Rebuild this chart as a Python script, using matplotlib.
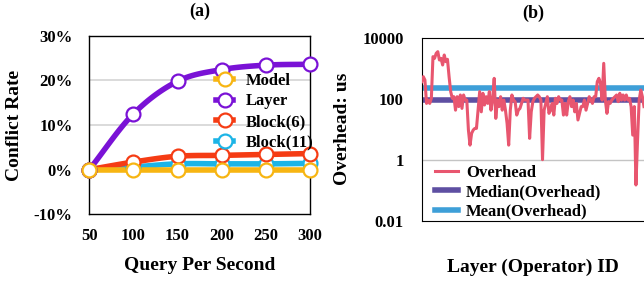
import numpy as np
import matplotlib
matplotlib.use("Agg")
import matplotlib.pyplot as plt
from matplotlib.lines import Line2D

plt.rcParams['font.family'] = ['Liberation Serif', 'DejaVu Serif']
plt.rcParams['font.weight'] = 'bold'

# ---------------- data (a) ----------------
qps = [50, 100, 150, 200, 250, 300]
model = [0.0, 0.0, 0.0, 0.0, 0.0, 0.0]
layer = [0.0, 12.5, 19.8, 22.4, 23.4, 23.6]
block6 = [0.0, 1.7, 3.0, 3.2, 3.4, 3.6]
block11 = [0.0, 0.6, 1.3, 1.3, 1.3, 1.4]
series_names = ["Model", "Layer", "Block(6)", "Block(11)"]
series_colors = ["#F7B512", "#7A12D6", "#F53C14", "#1CB4E6"]
yticks_a = [-10, 0, 10, 20, 30]
ytick_labels_a = ["-10%", "0%", "10%", "20%", "30%"]

# ---------------- data (b) ----------------
overhead = [361, 526, 409, 70, 90, 70, 103, 2385, 2100, 3060, 3475, 1850, 2100, 1270,
            2700, 1630, 1950, 526, 170, 103, 116, 42, 116, 55, 132, 48, 132, 90, 90,
            9.4, 3.0, 7.3, 9.4, 10.6, 10.6, 42, 170, 37, 150, 62, 116, 70, 170, 42,
            90, 464, 22.6, 90, 55, 116, 42, 90, 42, 15.5, 3.0, 42, 132, 90, 80, 29,
            42, 48, 70, 103, 90, 90, 90, 5.0, 37, 80, 103, 116, 132, 116, 90, 1.0,
            42, 70, 116, 33, 42, 70, 29, 103, 70, 116, 90, 90, 29, 70, 29, 80, 116,
            55, 90, 37, 70, 20, 33, 55, 55, 90, 42, 70, 116, 90, 70, 116, 116, 361,
            464, 318, 90, 1440, 90, 33, 80, 70, 90, 103, 116, 132, 80, 150, 90, 132,
            90, 132, 90, 103, 55, 6.4, 55, 0.148, 4.4, 90, 192, 116, 55]
median_overhead = 90
mean_overhead = 220
yticks_b = [0.01, 1, 100, 10000]
ytick_labels_b = ["0.01", "1", "100", "10000"]


def smooth(x, y, n=20):
    """Catmull-Rom style smooth rendering through the data points."""
    x = np.asarray(x, float)
    y = np.asarray(y, float)
    xs, ys = [], []
    for i in range(len(x) - 1):
        p0 = (x[i - 1], y[i - 1]) if i > 0 else (2 * x[i] - x[i + 1], 2 * y[i] - y[i + 1])
        p1 = (x[i], y[i])
        p2 = (x[i + 1], y[i + 1])
        p3 = (x[i + 2], y[i + 2]) if i + 2 < len(x) else (2 * x[i + 1] - x[i], 2 * y[i + 1] - y[i])
        t = np.linspace(0, 1, n, endpoint=False)
        for k in range(2):
            a0 = p1[k]
            m1 = (p2[k] - p0[k]) / 2
            m2 = (p3[k] - p1[k]) / 2
            h00 = 2 * t**3 - 3 * t**2 + 1
            h10 = t**3 - 2 * t**2 + t
            h01 = -2 * t**3 + 3 * t**2
            h11 = t**3 - t**2
            v = h00 * a0 + h10 * m1 + h01 * p2[k] + h11 * m2
            (xs if k == 0 else ys).append(v)
    xs = np.concatenate(xs + [[x[-1]]])
    ys = np.concatenate(ys + [[y[-1]]])
    return xs, ys


fig = plt.figure(figsize=(6.44, 2.81), dpi=100)

# ---------------- (a) ----------------
ax1 = fig.add_axes([0.1387, 0.2374, 0.3427, 0.6356])
ax1.set_xlim(50, 300)
ax1.set_ylim(-10, 30)
for yv in [10, 20]:
    ax1.axhline(yv, color="#d4d4d4", lw=1.2, zorder=0)

all_series = [model, layer, block6, block11]
draw_order = [3, 2, 1, 0]
for i in draw_order:
    ys = all_series[i]
    col = series_colors[i]
    sx, sy = smooth(qps, ys)
    ax1.plot(sx, sy, color=col, lw=4, solid_capstyle="round", zorder=2 + (3 - i) * 0.1)
for i in [3, 2, 1, 0]:
    ax1.plot(qps, all_series[i], ls="none", marker="o", ms=10, mfc="white",
             mec=series_colors[i], mew=1.6, zorder=4 + (3 - i) * 0.1, clip_on=False)

leg_handles = [Line2D([0], [0], color=c, lw=4, marker="o", ms=10, mfc="white",
                      mec=c, mew=1.6) for c in series_colors]
leg = ax1.legend(leg_handles, series_names, loc="upper right",
                 bbox_to_anchor=(1.045, 0.83), frameon=False,
                 prop={"size": 12, "weight": "bold"}, handlelength=1.0,
                 handletextpad=0.75, labelspacing=0.28, borderaxespad=0)

ax1.set_xticks(qps)
ax1.set_xticklabels([str(q) for q in qps])
ax1.set_yticks(yticks_a)
ax1.set_yticklabels(ytick_labels_a)
ax1.tick_params(axis="y", length=0, labelsize=12, pad=12)
ax1.tick_params(axis="x", length=0, labelsize=12, pad=10)
for lab in ax1.get_xticklabels() + ax1.get_yticklabels():
    lab.set_fontweight("bold")
ax1.set_xlabel("Query Per Second", fontsize=14, fontweight="bold", labelpad=9)
ax1.set_ylabel("Conflict Rate", fontsize=14, fontweight="bold", labelpad=8)
ax1.set_title("(a)", fontsize=13, fontweight="bold", pad=14)
for sp in ax1.spines.values():
    sp.set_linewidth(1.0)

# ---------------- (b) ----------------
ax2 = fig.add_axes([0.6548, 0.2146, 0.3452, 0.6514])
ax2.set_yscale("log")
ax2.set_ylim(0.01, 10000)
ids = np.arange(len(overhead))
ax2.set_xlim(0, len(overhead) - 1)
ax2.axhline(1, color="#c4c4c4", lw=1.0, zorder=0)
ax2.axhline(100, color="#c4c4c4", lw=1.0, zorder=0)
ax2.plot(ids, overhead, color="#E8566F", lw=2.2, zorder=3, label="Overhead")
ax2.axhline(median_overhead, color="#5E4FA2", lw=4, zorder=2, label="Median(Overhead)")
ax2.axhline(mean_overhead, color="#3E9FD8", lw=4, zorder=2, label="Mean(Overhead)")
ax2.legend(loc="lower left", frameon=False, prop={"size": 12, "weight": "bold"},
           handlelength=1.35, handletextpad=0.5, labelspacing=0.2,
           bbox_to_anchor=(0.03, -0.03), borderaxespad=0)
ax2.set_xticks([])
ax2.set_yticks(yticks_b)
ax2.set_yticklabels(ytick_labels_b)
ax2.minorticks_off()
ax2.tick_params(length=0, labelsize=12, pad=13)
for lab in ax2.get_yticklabels():
    lab.set_fontweight("bold")
ax2.spines["right"].set_visible(False)
ax2.set_xlabel("Layer (Operator) ID", fontsize=14, fontweight="bold", labelpad=27)
ax2.set_ylabel("Overhead: us", fontsize=14, fontweight="bold", labelpad=8)
ax2.set_title("(b)", fontsize=13, fontweight="bold", pad=14)

fig.savefig("out.png", dpi=100)
